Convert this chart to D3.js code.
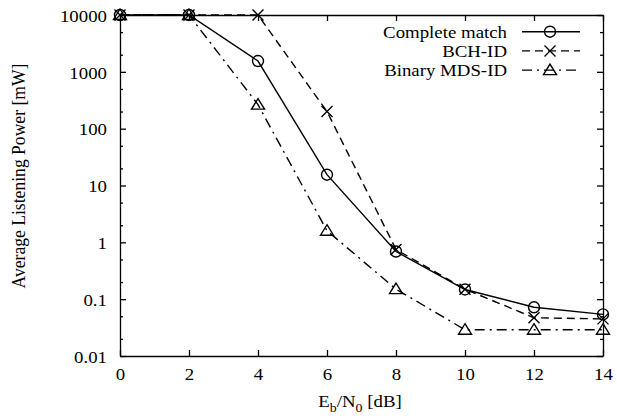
<!DOCTYPE html>
<html><head><meta charset="utf-8">
<script src="https://cdn.jsdelivr.net/npm/d3@7"></script>
</head><body style="margin:0;background:#fff">
<script>
const snr = [0, 2, 4, 6, 8, 10, 12, 14];
const completeMatch = [10000, 10000, 1550, 15.5, 0.69, 0.148, 0.072, 0.054];
const bchId = [10000, 10000, 10000, 200, 0.75, 0.15, 0.047, 0.045];
const binaryMds = [10000, 10000, 265, 1.6, 0.15, 0.029, 0.029, 0.029];
const seriesNames = ["Complete match", "BCH-ID", "Binary MDS-ID"];
const xTicks = [0, 2, 4, 6, 8, 10, 12, 14];
const yTicks = [0.01, 0.1, 1, 10, 100, 1000, 10000];
const yTickLabels = ["0.01", "0.1", "1", "10", "100", "1000", "10000"];

const W = 617, H = 419;
const FONT = "Liberation Serif, DejaVu Serif, serif";
const fs = 17.6, SX = 1.07;
const m = {l: 120, r: 14, t: 15, b: 63};
const svg = d3.select("body").append("svg").attr("width", W).attr("height", H).style("display", "block").attr("font-family", FONT);
const x = d3.scaleLinear().domain([0, 14]).range([m.l, W - m.r]);
const y = d3.scaleLog().domain([0.01, 10000]).range([H - m.b, m.t]);

const minor = [];
for (let e = -2; e < 4; e++) { [2, 5].forEach(k => minor.push(k * Math.pow(10, e))); }

const g = svg.append("g");
const axL = d3.axisLeft(y).tickValues(yTicks).tickFormat((d, i) => yTickLabels[i]).tickSizeInner(-6).tickSizeOuter(0).tickPadding(12);
const gl = g.append("g").attr("transform", `translate(${m.l},0)`).call(axL);
gl.selectAll("text").attr("dy", "0.35em").attr("x", 0).attr("transform", `translate(-13,0) scale(${SX},1)`);
const axB = d3.axisBottom(x).tickValues(xTicks).tickSizeInner(-6).tickSizeOuter(0).tickPadding(12);
const gb = g.append("g").attr("transform", `translate(0,${H - m.b})`).call(axB);
gb.selectAll("text").attr("transform", `scale(${SX},1)`);
g.append("g").attr("transform", `translate(${W - m.r},0)`).call(d3.axisRight(y).tickValues(yTicks).tickFormat("").tickSizeInner(-6).tickSizeOuter(0));
g.append("g").attr("transform", `translate(0,${m.t})`).call(d3.axisTop(x).tickValues(xTicks).tickFormat("").tickSizeInner(-6).tickSizeOuter(0));
g.append("g").attr("transform", `translate(${m.l},0)`).call(d3.axisLeft(y).tickValues(minor).tickFormat("").tickSizeInner(-3).tickSizeOuter(0)).select(".domain").remove();
g.append("g").attr("transform", `translate(${W - m.r},0)`).call(d3.axisRight(y).tickValues(minor).tickFormat("").tickSizeInner(-3).tickSizeOuter(0)).select(".domain").remove();
g.selectAll(".domain, .tick line").attr("stroke", "#000").attr("stroke-width", 1.3);

svg.append("text").attr("transform", `translate(25,176) scale(${SX},1) rotate(-90)`).attr("text-anchor", "middle").text("Average Listening Power [mW]");
const xl = svg.append("text").attr("transform", `translate(360,407) scale(${SX},1)`).attr("text-anchor", "middle");
xl.append("tspan").text("E");
xl.append("tspan").attr("dy", 5).attr("class", "sub").text("b");
xl.append("tspan").attr("dy", -5).text("/N");
xl.append("tspan").attr("dy", 5).attr("class", "sub").text("0");
xl.append("tspan").attr("dy", -5).text(" [dB]");

const styles = [
  {data: completeMatch, dash: null, marker: "circle"},
  {data: bchId, dash: "8,5", marker: "x"},
  {data: binaryMds, dash: "10,5,2,5", marker: "tri"}
];
function drawMarker(sel, type, cx, cy) {
  if (type === "circle") sel.append("circle").attr("cx", cx).attr("cy", cy).attr("r", 5.5).attr("fill", "none").attr("stroke", "#000").attr("stroke-width", 1.4);
  else if (type === "x") sel.append("path").attr("d", `M${cx-5.5},${cy-5.5}L${cx+5.5},${cy+5.5}M${cx-5.5},${cy+5.5}L${cx+5.5},${cy-5.5}`).attr("stroke", "#000").attr("stroke-width", 1.4);
  else sel.append("path").attr("d", `M${cx},${cy-6}L${cx+6.5},${cy+4.5}L${cx-6.5},${cy+4.5}Z`).attr("fill", "none").attr("stroke", "#000").attr("stroke-width", 1.4);
}
const line = d3.line().x((d, i) => x(snr[i])).y(d => y(d));
styles.forEach(s => {
  svg.append("path").attr("d", line(s.data)).attr("fill", "none").attr("stroke", "#000").attr("stroke-width", 1.4).attr("stroke-dasharray", s.dash);
  const mg = svg.append("g");
  s.data.forEach((v, i) => drawMarker(mg, s.marker, x(snr[i]), y(v)));
});

const ly0 = 31.7, lstep = 19.2;
styles.forEach((s, i) => {
  const yy = ly0 + i * lstep;
  svg.append("text").attr("transform", `translate(507,${yy}) scale(${SX},1)`).attr("dy", "0.35em").attr("text-anchor", "end").text(seriesNames[i]);
  svg.append("line").attr("x1", 522).attr("x2", 580).attr("y1", yy).attr("y2", yy).attr("stroke", "#000").attr("stroke-width", 1.4).attr("stroke-dasharray", s.dash);
  drawMarker(svg, s.marker, 550, yy);
});
svg.selectAll("text").attr("font-family", FONT).attr("font-size", fs).attr("fill", "#000");
svg.selectAll("tspan.sub").attr("font-size", 13);
</script>
</body></html>
